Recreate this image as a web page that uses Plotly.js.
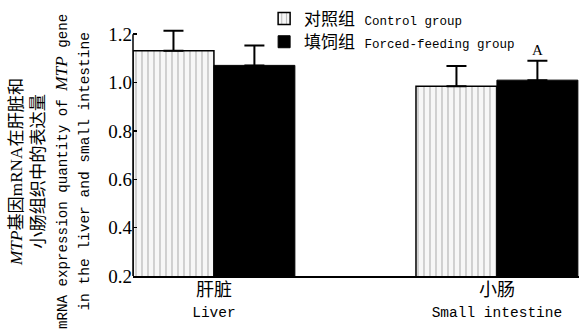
<!DOCTYPE html>
<html>
<head>
<meta charset="utf-8">
<script src="https://cdn.plot.ly/plotly-3.0.1.min.js"></script>
<style>
html,body{margin:0;padding:0;background:#fff;}
#chart{width:579px;height:332px;}
</style>
</head>
<body>
<div id="chart"></div>
<script>
// ---- data ----
var categoriesZh = ["肝脏", "小肠"];
var categoriesEn = ["Liver", "Small intestine"];
var seriesNamesZh = ["对照组", "填饲组"];
var seriesNamesEn = ["Control group", "Forced-feeding group"];
var controlValues = [1.131, 0.985];
var controlErrors = [0.083, 0.083];
var forcedValues = [1.071, 1.010];
var forcedErrors = [0.082, 0.080];
var forcedSigLabels = ["", "A"];
var yTickValues = [0.2, 0.4, 0.6, 0.8, 1.0, 1.2];
var yTickText = ["0.2", "0.4", "0.6", "0.8", "1.0", "1.2"];

// ---- styling ----
var LAT = "Liberation Mono, Noto Sans CJK SC, monospace";
var SERIF = "Liberation Serif, Noto Sans CJK SC, serif";
var sz = function (s, px) { return '<span style="font-size:' + px + 'px">' + s + '</span>'; };
var serif = function (s) { return '<span style="font-family:Liberation Serif">' + s + '</span>'; };

var catLabels = categoriesZh.map(function (c, i) {
  return sz(c, 18) + '<br>' + sz(categoriesEn[i], 14.5);
});

var bargap = 0.428;
var zeros = controlValues.map(function () { return 0; });
var yMin = yTickValues[0], yMax = yTickValues[yTickValues.length - 1];

var traceControl = {
  type: 'bar',
  name: sz(seriesNamesZh[0], 17) + ' ' + sz(seriesNamesEn[0], 12.5),
  x: catLabels,
  y: controlValues,
  marker: {
    color: '#f7f7f7',
    line: { color: '#000', width: 1.5 },
    pattern: { shape: '|', fgcolor: '#bdbdbd', bgcolor: '#f7f7f7', size: 6, solidity: 0.22 }
  },
  error_y: { type: 'data', symmetric: false, array: controlErrors, arrayminus: zeros, color: '#000', thickness: 2, width: 10 }
};
var traceForced = {
  type: 'bar',
  name: sz(seriesNamesZh[1], 17) + ' ' + sz(seriesNamesEn[1], 12.5),
  x: catLabels,
  y: forcedValues,
  marker: { color: '#000', line: { color: '#000', width: 1 } },
  error_y: { type: 'data', symmetric: false, array: forcedErrors, arrayminus: zeros, color: '#000', thickness: 2, width: 10 }
};

var annotations = [];
forcedSigLabels.forEach(function (s, i) {
  if (!s) return;
  annotations.push({
    x: i + (1 - bargap) / 4, y: forcedValues[i] + forcedErrors[i], xref: 'x', yref: 'y',
    text: s, showarrow: false, yanchor: 'bottom', yshift: 1,
    font: { family: SERIF, size: 15, color: '#000' }
  });
});
annotations.push({
  xref: 'paper', yref: 'paper', x: -0.186, y: 0.391, xanchor: 'center', yanchor: 'middle',
  textangle: -90, showarrow: false,
  font: { family: LAT, size: 17.2, color: '#000' },
  text: serif('<i>MTP</i>') + '基因' + serif('mRNA') + '在肝脏和<br>' +
        '小肠组织中的表达量<br>' +
        sz('mRNA expression quantity of ', 14.2) + serif('<i>MTP</i>') + sz(' gene', 14.2) + '<br>' +
        sz('in the liver and small intestine', 14.5)
});

var layout = {
  width: 579, height: 332,
  margin: { l: 133, r: 0, t: 10, b: 56, pad: 0 },
  paper_bgcolor: '#fff', plot_bgcolor: '#fff',
  barmode: 'group', bargap: bargap, bargroupgap: 0,
  showlegend: true,
  legend: {
    x: 0.294, y: 1.03, xanchor: 'left', yanchor: 'top',
    bgcolor: 'rgba(0,0,0,0)', borderwidth: 0,
    font: { family: LAT, size: 15.5, color: '#000' },
    itemwidth: 30, tracegroupgap: 0
  },
  xaxis: {
    type: 'category', range: [-0.286, 1.29],
    showline: true, linecolor: '#000', linewidth: 2, ticks: '', showgrid: false, zeroline: false,
    tickfont: { family: LAT, size: 15.4, color: '#000' }
  },
  yaxis: {
    range: [yMin, yMax + 0.1], tickvals: yTickValues, ticktext: yTickText,
    showline: false, ticks: 'inside', ticklen: 4, tickwidth: 1.5, tickcolor: '#000',
    showgrid: false, zeroline: false,
    tickfont: { family: SERIF, size: 19, color: '#000' }
  },
  shapes: [{
    type: 'line', xref: 'paper', yref: 'y', x0: 0, x1: 0, y0: yMin, y1: yMax,
    line: { color: '#000', width: 1.5 }, layer: 'above'
  }],
  annotations: annotations
};

Plotly.newPlot('chart', [traceControl, traceForced], layout, { displayModeBar: false, staticPlot: true });
</script>
</body>
</html>
